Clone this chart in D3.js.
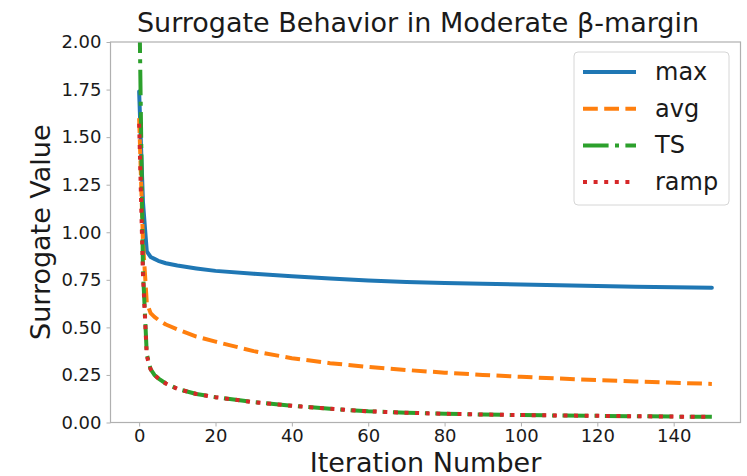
<!DOCTYPE html>
<html>
<head>
<meta charset="utf-8">
<script src="https://cdn.jsdelivr.net/npm/d3@7/dist/d3.min.js"></script>
<style>
  body { margin: 0; background: #fff; }
  text { font-family: "DejaVu Sans", sans-serif; fill: #1a1a1a; }
</style>
</head>
<body>
<div id="chart"></div>
<script>
var iters = [0, 1, 2, 3, 4, 5, 7, 10, 15, 20, 30, 40, 50, 60, 70, 80, 90, 100, 110, 120, 130, 140, 150];

var maxVals  = [1.74, 1.16, 0.90, 0.87, 0.86, 0.85, 0.837, 0.825, 0.81, 0.797, 0.782, 0.769, 0.757, 0.747, 0.739, 0.733, 0.729, 0.725, 0.721, 0.717, 0.714, 0.711, 0.708];
var avgVals  = [1.60, 0.95, 0.63, 0.575, 0.555, 0.54, 0.515, 0.49, 0.452, 0.425, 0.375, 0.338, 0.312, 0.292, 0.276, 0.262, 0.25, 0.24, 0.231, 0.223, 0.216, 0.209, 0.203];
var tsVals   = [2.30, 0.80, 0.36, 0.28, 0.25, 0.232, 0.205, 0.177, 0.15, 0.133, 0.107, 0.088, 0.072, 0.059, 0.051, 0.046, 0.042, 0.039, 0.037, 0.035, 0.033, 0.031, 0.03];
var rampVals = [1.57, 0.78, 0.35, 0.28, 0.25, 0.232, 0.205, 0.177, 0.15, 0.133, 0.107, 0.088, 0.072, 0.059, 0.051, 0.046, 0.042, 0.039, 0.037, 0.035, 0.033, 0.031, 0.03];

var seriesNames = ["max", "avg", "TS", "ramp"];
var xTicks = [0, 20, 40, 60, 80, 100, 120, 140];
var yTicks = [0, 0.25, 0.5, 0.75, 1.0, 1.25, 1.5, 1.75, 2.0];

(function() {
    var width = 747,
        height = 476;
    var left = 110.5, right = 740.5, top = 42, bottom = 422.5;

    var colors = ["#1f77b4", "#ff7f0e", "#2ca02c", "#d62728"];
    var lw = 4;
    // matplotlib style dash patterns scaled by line width
    var dashes = [null, [3.7 * lw, 1.6 * lw], [6.4 * lw, 1.6 * lw, 1 * lw, 1.6 * lw], [1 * lw, 1.65 * lw]];
    var allVals = [maxVals, avgVals, tsVals, rampVals];

    var svg = d3.select("#chart")
        .append("svg")
        .attr("width", width)
        .attr("height", height);

    var x = d3.scaleLinear().domain([-7.5, 157.5]).range([left, right]);
    var y = d3.scaleLinear().domain([0, 2]).range([bottom, top]);

    svg.append("clipPath").attr("id", "clip")
        .append("rect")
        .attr("x", left).attr("y", top)
        .attr("width", right - left).attr("height", bottom - top);

    var line = d3.line()
        .x(function(d) { return x(d[0]); })
        .y(function(d) { return y(d[1]); });

    var plot = svg.append("g").attr("clip-path", "url(#clip)");

    allVals.forEach(function(vals, i) {
        var pts = iters.map(function(it, j) { return [it, vals[j]]; });
        plot.append("path")
            .datum(pts)
            .attr("d", line)
            .attr("fill", "none")
            .attr("stroke", colors[i])
            .attr("stroke-width", lw)
            .attr("stroke-linejoin", "round")
            .attr("stroke-linecap", i === 0 ? "round" : "butt")
            .attr("stroke-dasharray", dashes[i] ? dashes[i].join(",") : null);
    });

    // frame
    svg.append("rect")
        .attr("x", left).attr("y", top)
        .attr("width", right - left).attr("height", bottom - top)
        .attr("fill", "none")
        .attr("stroke", "#b0b0b0")
        .attr("stroke-width", 1.2);

    // axes
    var xAxis = d3.axisBottom(x).tickValues(xTicks).tickSize(4).tickPadding(3)
        .tickFormat(d3.format("d"));
    var gx = svg.append("g")
        .attr("transform", "translate(0," + bottom + ")")
        .call(xAxis);

    var yAxis = d3.axisLeft(y).tickValues(yTicks).tickSize(4).tickPadding(5)
        .tickFormat(d3.format(".2f"));
    var gy = svg.append("g")
        .attr("transform", "translate(" + left + ",0)")
        .call(yAxis);

    [gx, gy].forEach(function(g) {
        g.select(".domain").remove();
        g.selectAll(".tick line").attr("stroke", "#b0b0b0");
        g.selectAll(".tick text")
            .style("font-family", "DejaVu Sans")
            .style("font-size", "18px")
            .attr("fill", "#1a1a1a");
    });

    // title and labels
    svg.append("text")
        .attr("x", 418)
        .attr("y", 32)
        .attr("text-anchor", "middle")
        .style("font-size", "27px")
        .text("Surrogate Behavior in Moderate β-margin");

    svg.append("text")
        .attr("x", (left + right) / 2)
        .attr("y", 472)
        .attr("text-anchor", "middle")
        .style("font-size", "27px")
        .text("Iteration Number");

    svg.append("text")
        .attr("transform", "translate(50," + (top + bottom) / 2 + ") rotate(-90)")
        .attr("text-anchor", "middle")
        .style("font-size", "27px")
        .text("Surrogate Value");

    // legend
    var legend = svg.append("g").attr("transform", "translate(574,52)");
    legend.append("rect")
        .attr("width", 155).attr("height", 153)
        .attr("rx", 4)
        .attr("fill", "#fff").attr("fill-opacity", 0.85)
        .attr("stroke", "#d6d6d6");

    seriesNames.forEach(function(name, i) {
        var ly = 20 + i * 36.7;
        legend.append("line")
            .attr("x1", 9).attr("x2", 62)
            .attr("y1", ly).attr("y2", ly)
            .attr("stroke", colors[i])
            .attr("stroke-width", lw)
            .attr("stroke-dasharray", dashes[i] ? dashes[i].join(",") : null);
        legend.append("text")
            .attr("x", 81).attr("y", ly + 8)
            .style("font-size", "24px")
            .text(name);
    });
})();
</script>
</body>
</html>
